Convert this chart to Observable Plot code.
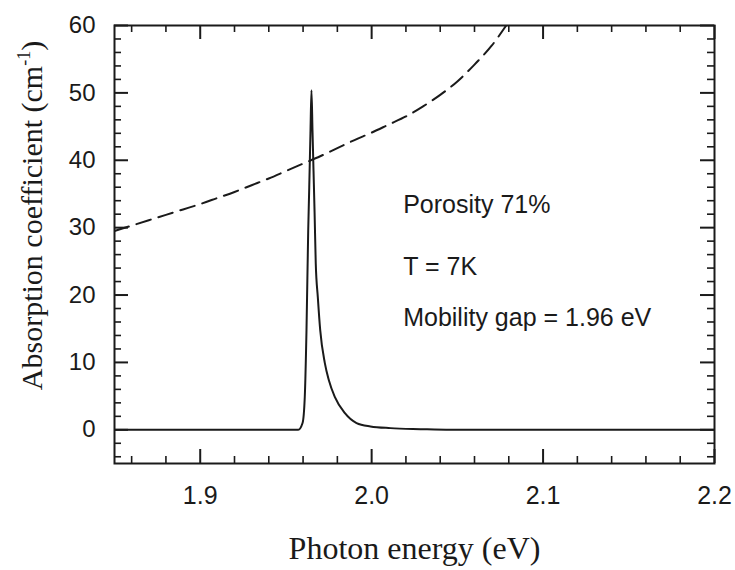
<!DOCTYPE html>
<html>
<head>
<meta charset="utf-8">
<script src="https://cdn.jsdelivr.net/npm/d3@7"></script>
<script src="https://cdn.jsdelivr.net/npm/@observablehq/plot@0.6"></script>
<style>
  html, body { margin: 0; padding: 0; background: #ffffff; }
  #chart svg { display: block; }
</style>
</head>
<body>
<div id="chart"></div>
<script>
// ---- data ----
const solidEnergy = [1.85, 1.9572, 1.9597, 1.9610, 1.9620, 1.9630, 1.9636, 1.9643, 1.9649,
  1.9655, 1.9661, 1.9667, 1.9674, 1.9686, 1.9700, 1.9727, 1.9750, 1.9785, 1.9843, 1.9912,
  1.9993, 2.011, 2.0285, 2.046, 2.2];
const solidAlpha = [0, 0, 1.0, 4.9, 14.8, 29.6, 36, 44, 50.4,
  44.4, 38.4, 32.4, 24.7, 19.7, 14.8, 9.9, 7.4, 4.9, 2.5, 1.0,
  0.5, 0.25, 0.1, 0, 0];

const dashEnergy = [1.85, 1.86, 1.87, 1.88, 1.89, 1.90, 1.91, 1.92, 1.93, 1.94, 1.95, 1.96, 1.97,
  1.98, 1.99, 2.00, 2.01, 2.02, 2.03, 2.04, 2.05, 2.06, 2.07, 2.0785];
const dashAlpha = [29.5, 30.3, 31.1, 31.9, 32.7, 33.5, 34.4, 35.3, 36.3, 37.3, 38.4, 39.5, 40.6,
  41.8, 43.0, 44.1, 45.3, 46.5, 48.0, 49.7, 51.7, 54.2, 57.0, 60];

const xTickLabels = [1.9, 2.0, 2.1, 2.2];
const xMinorTicks = [1.86, 1.88, 1.92, 1.94, 1.96, 1.98, 2.02, 2.04, 2.06, 2.08, 2.12, 2.14, 2.16, 2.18];
const yTickLabels = [0, 10, 20, 30, 40, 50, 60];
const yMinorTicks = [-4, -2, 2, 4, 6, 8, 12, 14, 16, 18, 22, 24, 26, 28, 32, 34, 36, 38, 42, 44, 46, 48, 52, 54, 56, 58];

const notes = [
  {text: "Porosity 71%", energy: 2.0184, alpha: 33.3},
  {text: "T = 7K", energy: 2.0184, alpha: 24.1},
  {text: "Mobility gap = 1.96 eV", energy: 2.0184, alpha: 16.6}
];
const xTitle = "Photon energy (eV)";
const yTitle = "Absorption coefficient (cm-1)";

// ---- tables for the library ----
const solid = solidEnergy.map((e, i) => ({e, a: solidAlpha[i]}));
const dashed = dashEnergy.map((e, i) => ({e, a: dashAlpha[i]}));

const W = 735, H = 570;
const mL = 114, mR = 21, mT = 25, mB = 107;
const innerW = W - mL - mR, innerH = H - mT - mB;
const ink = "#1a1a1a";
const sans = "'Liberation Sans', Arial, Helvetica, sans-serif";
const serif = "'Liberation Serif', 'Times New Roman', serif";

const chart = Plot.plot({
  width: W,
  height: H,
  marginLeft: mL,
  marginRight: mR,
  marginTop: mT,
  marginBottom: mB,
  style: {background: "#ffffff", color: ink, overflow: "visible"},
  x: {domain: [1.85, 2.2], label: null},
  y: {domain: [-5, 60], label: null},
  marks: [
    // inward ticks: bottom / top major & minor
    Plot.ruleX(xTickLabels, {x: d => d, insetTop: innerH - 14, stroke: ink, strokeWidth: 2}),
    Plot.ruleX(xTickLabels, {x: d => d, insetBottom: innerH - 14, stroke: ink, strokeWidth: 2}),
    Plot.ruleX(xMinorTicks, {x: d => d, insetTop: innerH - 7, stroke: ink, strokeWidth: 1.6}),
    Plot.ruleX(xMinorTicks, {x: d => d, insetBottom: innerH - 7, stroke: ink, strokeWidth: 1.6}),
    // inward ticks: left / right major & minor
    Plot.ruleY(yTickLabels, {y: d => d, insetRight: innerW - 14, stroke: ink, strokeWidth: 2}),
    Plot.ruleY(yTickLabels, {y: d => d, insetLeft: innerW - 14, stroke: ink, strokeWidth: 2}),
    Plot.ruleY(yMinorTicks, {y: d => d, insetRight: innerW - 7, stroke: ink, strokeWidth: 1.6}),
    Plot.ruleY(yMinorTicks, {y: d => d, insetLeft: innerW - 7, stroke: ink, strokeWidth: 1.6}),
    // tick labels
    Plot.axisX(xTickLabels, {tickSize: 0, tickPadding: 23, fontSize: 25, fontFamily: sans, fill: ink,
      tickFormat: d => d.toFixed(1), label: null}),
    Plot.axisY(yTickLabels, {tickSize: 0, tickPadding: 19, fontSize: 24, fontFamily: sans, fill: ink,
      tickFormat: d => String(d), label: null}),
    // curves
    Plot.line(dashed, {x: "e", y: "a", stroke: ink, strokeWidth: 2, strokeDasharray: "15,8", curve: "monotone-x", clip: true}),
    Plot.line(solid, {x: "e", y: "a", stroke: ink, strokeWidth: 2, curve: "monotone-x", clip: true}),
    // frame
    Plot.frame({stroke: ink, strokeWidth: 2}),
    // annotations
    Plot.text(notes, {x: "energy", y: "alpha", text: "text", textAnchor: "start", lineAnchor: "middle",
      fontSize: 25, fontFamily: sans, fill: ink}),
    // axis titles
    Plot.text([xTitle], {text: d => d, frameAnchor: "bottom", dy: 85, lineAnchor: "middle",
      fontSize: 32, fontFamily: serif, fill: ink}),
    Plot.text([yTitle], {text: d => d, frameAnchor: "left", rotate: -90, dx: -82, dy: -29,
      lineAnchor: "middle", textAnchor: "middle", fontSize: 30, fontFamily: serif, fill: ink})
  ]
});

// superscript for cm-1
d3.select(chart).selectAll("text").each(function() {
  const t = d3.select(this);
  if (t.text() === yTitle) {
    t.text(null);
    t.append("tspan").text("Absorption coefficient (cm");
    t.append("tspan").attr("font-size", 18).attr("dy", -12).text("-1");
    t.append("tspan").attr("dy", 12).text(")");
  }
});

document.getElementById("chart").appendChild(chart);
</script>
</body>
</html>
